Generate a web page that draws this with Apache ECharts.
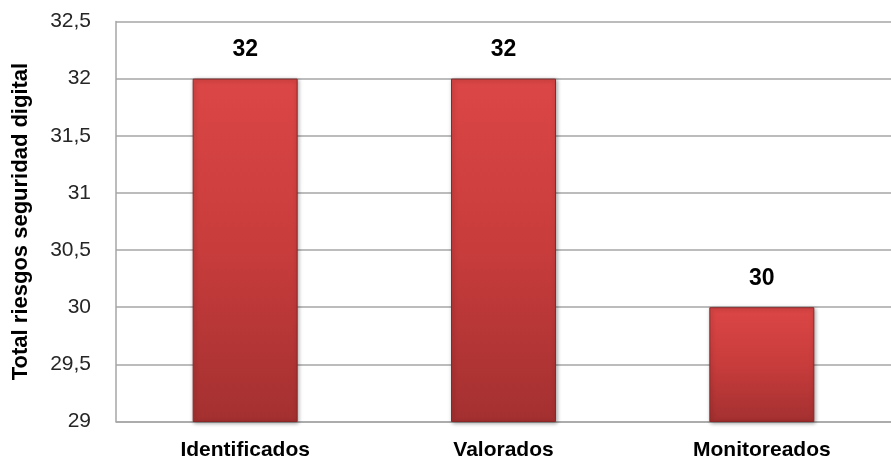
<!DOCTYPE html>
<html>
<head>
<meta charset="utf-8">
<script src="https://cdn.jsdelivr.net/npm/echarts@6/dist/echarts.min.js"></script>
<style>html,body{margin:0;padding:0;background:#fff}#c{width:891px;height:462px}</style>
</head>
<body>
<div id="c"></div>
<script>
const categories = ['Identificados', 'Valorados', 'Monitoreados'];
const values = [32, 32, 30];
const yAxisName = 'Total riesgos seguridad digital';

const boldFont = '"Liberation Sans", Arial, sans-serif';
const chart = echarts.init(document.getElementById('c'), null, {renderer: 'canvas'});
chart.setOption({
  animation: false,
  grid: {left: 116, top: 21.5, width: 788, bottom: 40.5, containLabel: false},
  xAxis: {
    type: 'category',
    data: categories,
    axisLine: {lineStyle: {color: '#a6a6a6', width: 1.5}},
    axisTick: {show: false},
    axisLabel: {color: '#000', fontFamily: boldFont, fontWeight: 'bold', fontSize: 21, margin: 18}
  },
  yAxis: {
    type: 'value',
    min: 29, max: 32.5, interval: 0.5,
    name: yAxisName,
    nameLocation: 'middle',
    nameGap: 84,
    nameTextStyle: {color: '#000', fontFamily: boldFont, fontWeight: 'bold', fontSize: 22},
    axisLine: {show: true, lineStyle: {color: '#a6a6a6', width: 1.5}},
    axisTick: {show: false},
    splitLine: {lineStyle: {color: '#a6a6a6', width: 1.5}},
    axisLabel: {
      color: '#262626', fontFamily: '"Liberation Sans", sans-serif', fontSize: 21, margin: 25,
      formatter: v => String(v).replace('.', ',')
    }
  },
  series: [{
    type: 'bar',
    data: values,
    barWidth: 105,
    itemStyle: {
      color: new echarts.graphic.LinearGradient(0, 0, 0, 1, [
        {offset: 0, color: '#dc4646'},
        {offset: 0.5, color: '#c83c3c'},
        {offset: 1, color: '#a43030'}
      ]),
      borderColor: '#8a2828',
      borderWidth: 1,
      shadowColor: 'rgba(0,0,0,0.35)',
      shadowBlur: 4,
      shadowOffsetX: 1,
      shadowOffsetY: 1
    },
    label: {
      show: true, position: 'top', distance: 17,
      color: '#000', fontFamily: boldFont, fontWeight: 'bold', fontSize: 23
    }
  }]
});
</script>
</body>
</html>
